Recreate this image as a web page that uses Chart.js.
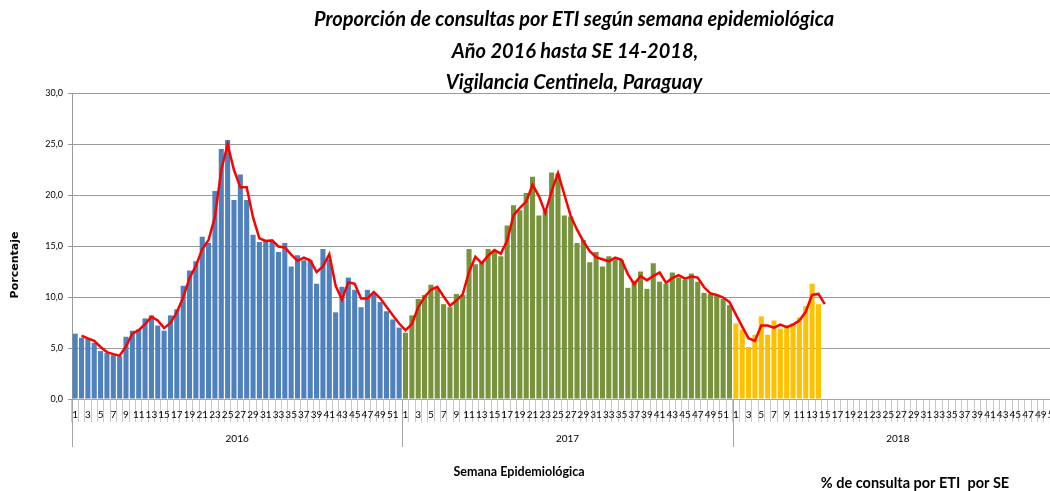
<!DOCTYPE html>
<html>
<head>
<meta charset="utf-8">
<script src="https://cdn.jsdelivr.net/npm/chart.js@4.4.1/dist/chart.umd.min.js"></script>
<style>
  html, body { margin: 0; padding: 0; background: #fff; overflow: hidden; }
  #wrap { position: relative; width: 1063px; height: 491px; }
</style>
</head>
<body>
<div id="wrap"><canvas id="chartETI"></canvas></div>
<script>
const years = ["2016", "2017", "2018"];
const weeks = [1, 2, 3, 4, 5, 6, 7, 8, 9, 10, 11, 12, 13, 14, 15, 16, 17, 18, 19, 20,
  21, 22, 23, 24, 25, 26, 27, 28, 29, 30, 31, 32, 33, 34, 35, 36, 37, 38, 39, 40,
  41, 42, 43, 44, 45, 46, 47, 48, 49, 50, 51, 52];
const yTicks = [0, 5, 10, 15, 20, 25, 30];

// % de consultas por ETI, por semana
const pct2016 = [6.4, 6.0, 5.9, 5.5, 4.7, 4.5, 4.3, 4.2, 6.1, 6.7, 6.8, 7.9, 8.2, 7.2, 6.7, 8.2,
  8.8, 11.1, 12.6, 13.5, 15.9, 15.3, 20.4, 24.5, 25.4, 19.5, 22.0, 19.5, 16.1, 15.4, 15.6, 15.5,
  14.4, 15.3, 13.0, 14.1, 13.6, 13.6, 11.3, 14.7, 13.7, 8.5, 11.0, 11.9, 10.7, 9.0, 10.7, 10.3,
  9.5, 8.6, 7.8, 7.0];
const pct2017 = [6.5, 8.2, 9.8, 10.2, 11.2, 10.8, 9.3, 9.0, 10.3, 10.2, 14.7, 13.2, 13.4, 14.7,
  14.5, 14.0, 17.0, 19.0, 18.5, 20.2, 21.8, 18.0, 18.5, 22.2, 22.1, 18.0, 17.9, 15.3, 15.6, 13.4,
  14.4, 13.0, 14.0, 13.7, 13.6, 10.9, 11.6, 12.5, 10.8, 13.3, 11.5, 11.3, 12.4, 11.9, 11.7, 12.3,
  11.5, 10.4, 10.3, 10.1, 9.8, 9.2];
const pct2018 = [7.4, 6.8, 5.1, 6.3, 8.1, 6.3, 7.7, 6.9, 7.2, 7.45, 8.0, 9.1, 11.3, 9.3];

// linea roja (media movil de 2 semanas)
const trend2016 = [null, 6.2, 5.95, 5.7, 5.1, 4.6, 4.4, 4.25, 5.15, 6.4, 6.75, 7.35, 8.05, 7.7,
  6.95, 7.45, 8.5, 9.95, 11.85, 13.05, 14.7, 15.6, 17.85, 22.45, 24.95, 22.45, 20.75, 20.75, 17.8,
  15.75, 15.5, 15.55, 14.95, 14.85, 14.15, 13.55, 13.85, 13.6, 12.45, 13.0, 14.2, 11.1, 9.75,
  11.45, 11.3, 9.85, 9.85, 10.5, 9.9, 9.05, 8.2, 7.4];
const trend2017 = [6.75, 7.35, 9.0, 10.0, 10.7, 11.0, 10.05, 9.15, 9.65, 10.25, 12.45, 13.95,
  13.3, 14.05, 14.6, 14.25, 15.5, 18.0, 18.75, 19.35, 21.0, 19.9, 18.25, 20.35, 22.15, 20.05,
  17.95, 16.6, 15.45, 14.5, 13.9, 13.7, 13.5, 13.85, 13.65, 12.25, 11.25, 12.05, 11.65, 12.05,
  12.4, 11.4, 11.85, 12.15, 11.8, 12.0, 11.9, 10.95, 10.35, 10.2, 9.95, 9.5];
const trend2018 = [8.3, 7.1, 5.95, 5.7, 7.2, 7.2, 7.0, 7.3, 7.05, 7.3, 7.7, 8.55, 10.2, 10.3, 9.3];

const colors = ["#4f81bd", "#77933c", "#ffc000"];

const labels = years.flatMap(() => weeks.map(String));
const nWeeks = weeks.length;
const pad = (n) => Array(n).fill(null);

const place = (arr, yearIdx) =>
  pad(yearIdx * nWeeks).concat(arr, pad(labels.length - yearIdx * nWeeks - arr.length));

const barSets = [pct2016, pct2017, pct2018].map((arr, i) => ({
  type: "bar",
  label: years[i],
  data: place(arr, i),
  backgroundColor: colors[i],
  barPercentage: 0.8,
  categoryPercentage: 1.0,
  grouped: false,
  order: 2,
}));

const trendAll = trend2016.concat(trend2017, trend2018);
const lineSet = {
  type: "line",
  label: "% de consulta por ETI  por SE",
  data: trendAll.concat(pad(labels.length - trendAll.length)),
  borderColor: "#ff0000",
  borderWidth: 2.5,
  pointRadius: 0,
  tension: 0,
  spanGaps: false,
  order: 1,
};

const textFont = "'Liberation Sans Narrow', Lato, 'Liberation Sans', sans-serif";

const extras = {
  id: "extras",
  afterDraw(chart) {
    const ctx = chart.ctx;
    const xs = chart.scales.x;
    const area = chart.chartArea;
    const step = xs.getPixelForValue(1) - xs.getPixelForValue(0);
    ctx.save();

    // separadores y etiquetas de año
    ctx.strokeStyle = "#a6a6a6";
    ctx.lineWidth = 1;
    for (let i = 0; i <= years.length; i++) {
      const bx = Math.round(xs.getPixelForValue(i * nWeeks) - step / 2) + 0.5;
      ctx.beginPath();
      ctx.moveTo(bx, area.bottom);
      ctx.lineTo(bx, area.bottom + 48);
      ctx.stroke();
    }
    ctx.fillStyle = "#000";
    ctx.font = "10px " + textFont;
    ctx.textAlign = "center";
    ctx.textBaseline = "middle";
    years.forEach((y, i) => {
      const a = xs.getPixelForValue(i * nWeeks) - step / 2;
      const b = xs.getPixelForValue((i + 1) * nWeeks) - step / 2;
      ctx.fillText(y, (a + b) / 2, area.bottom + 40);
    });

    // titulo
    ctx.font = "italic bold 20px Lato, 'Liberation Sans', sans-serif";
    ctx.fillText("Proporción de consultas por ETI según semana epidemiológica", 574, 20);
    ctx.fillText("Año 2016 hasta SE 14-2018,", 575, 52);
    ctx.fillText("Vigilancia Centinela, Paraguay", 574, 83);

    // titulos de ejes y leyenda
    ctx.font = "bold 12.5px Lato, 'Liberation Sans', sans-serif";
    ctx.fillText("Semana Epidemiológica", 519, 472);
    ctx.font = "bold 14.5px Lato, 'Liberation Sans', sans-serif";
    ctx.fillText("% de consulta por ETI  por SE", 915, 483);

    ctx.translate(15, 265);
    ctx.rotate(-Math.PI / 2);
    ctx.font = "bold 11px 'DejaVu Sans', sans-serif";
    ctx.fillText("Porcentaje", 0, 0);
    ctx.restore();
  },
};

const chartETI = new Chart(document.getElementById("chartETI").getContext("2d"), {
  data: { labels: labels, datasets: [lineSet, ...barSets] },
  options: {
    responsive: true,
    maintainAspectRatio: false,
    animation: false,
    devicePixelRatio: 1,
    layout: { padding: { top: 93, right: 0, left: 0, bottom: 0 } },
    plugins: { legend: { display: false }, tooltip: { enabled: false } },
    scales: {
      x: {
        type: "category",
        afterFit: (s) => { s.height = 92; },
        grid: {
          offset: true,
          drawOnChartArea: false,
          drawTicks: true,
          tickLength: 23,
          color: "#c8c8c8",
        },
        border: { color: "#a6a6a6" },
        ticks: {
          autoSkip: false,
          maxRotation: 0,
          minRotation: 0,
          padding: -13,
          color: "#000",
          font: { size: 10, family: textFont },
          callback: (v, i) => (i % 2 === 0 ? labels[i] : ""),
        },
      },
      y: {
        min: yTicks[0],
        max: yTicks[yTicks.length - 1],
        afterFit: (s) => { s.width = 72; },
        afterBuildTicks: (s) => { s.ticks = yTicks.map((v) => ({ value: v })); },
        grid: { color: "#9a9a9a", tickLength: 4 },
        border: { color: "#9a9a9a" },
        ticks: {
          padding: 5,
          color: "#000",
          font: { size: 9, family: textFont },
          callback: (v) => v.toFixed(1).replace(".", ","),
        },
      },
    },
  },
  plugins: [extras],
});
</script>
</body>
</html>
